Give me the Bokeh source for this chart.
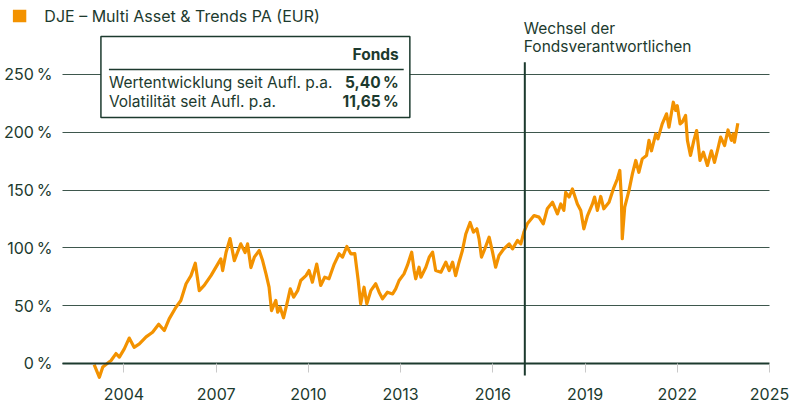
from bokeh.plotting import figure
from bokeh.models import FixedTicker, Label, BoxAnnotation, ColumnDataSource
from bokeh.embed import file_html
from bokeh.resources import INLINE

# ---------------- data ----------------
series_name = "DJE \u2013 Multi Asset & Trends PA (EUR)"
years = [
    2003.03, 2003.20, 2003.31, 2003.58, 2003.74, 2003.85, 2004.01, 2004.17, 2004.33, 2004.50,
    2004.72, 2004.93, 2005.13, 2005.31, 2005.47, 2005.69, 2005.85, 2006.02, 2006.18, 2006.32,
    2006.45, 2006.61, 2006.83, 2007.05, 2007.15, 2007.21, 2007.32, 2007.45, 2007.59, 2007.80,
    2007.94, 2008.02, 2008.13, 2008.24, 2008.40, 2008.51, 2008.62, 2008.72, 2008.80, 2008.94,
    2009.00, 2009.08, 2009.19, 2009.30, 2009.41, 2009.52, 2009.65, 2009.75, 2009.92, 2010.02,
    2010.13, 2010.27, 2010.40, 2010.53, 2010.67, 2010.84, 2011.00, 2011.11, 2011.25, 2011.38,
    2011.51, 2011.62, 2011.70, 2011.81, 2011.90, 2012.03, 2012.19, 2012.30, 2012.41, 2012.57,
    2012.74, 2012.84, 2012.95, 2013.11, 2013.22, 2013.36, 2013.44, 2013.49, 2013.60, 2013.66,
    2013.82, 2013.93, 2014.04, 2014.14, 2014.31, 2014.47, 2014.58, 2014.69, 2014.79, 2014.90,
    2015.01, 2015.12, 2015.26, 2015.37, 2015.48, 2015.55, 2015.63, 2015.74, 2015.88, 2015.99,
    2016.09, 2016.20, 2016.36, 2016.53, 2016.64, 2016.80, 2016.91, 2017.01, 2017.12, 2017.34,
    2017.50, 2017.64, 2017.77, 2017.94, 2018.10, 2018.21, 2018.31, 2018.37, 2018.48, 2018.59,
    2018.75, 2018.86, 2018.96, 2019.08, 2019.24, 2019.31, 2019.40, 2019.51, 2019.61, 2019.78,
    2019.92, 2020.05, 2020.13, 2020.18, 2020.21, 2020.29, 2020.43, 2020.54, 2020.65, 2020.75,
    2020.86, 2021.00, 2021.08, 2021.16, 2021.30, 2021.37, 2021.51, 2021.65, 2021.73, 2021.87,
    2021.95, 2022.00, 2022.09, 2022.16, 2022.27, 2022.33, 2022.43, 2022.54, 2022.63, 2022.74,
    2022.85, 2022.98, 2023.11, 2023.21, 2023.32, 2023.41, 2023.54, 2023.65, 2023.76, 2023.82,
    2023.86, 2023.97,
]
performance = [
    -1, -12, -3, 2.6, 8.6, 5.5, 12.7, 22, 14, 17,
    23, 27, 34, 28.5, 38.6, 48.7, 54.5, 69, 76, 86.8,
    63, 67.5, 76, 86, 90.5, 80.4, 96, 108, 89, 103.5,
    96, 103.5, 83, 92, 97.7, 89, 77.5, 66, 45.8, 54.5,
    44.4, 48.7, 39.5, 51.6, 64.6, 57.4, 63, 71.8, 76, 80.4,
    70.3, 86, 67.5, 74.6, 73.3, 86, 94.9, 92, 101.2, 94.9,
    95, 71.8, 51.6, 66, 51.6, 63, 69, 61.7, 56, 61.7,
    60.2, 64.6, 71.8, 77.5, 84.8, 96.3, 80.4, 73.3, 83.3, 74.6,
    83.3, 92, 96.3, 80.4, 79, 87.6, 80.4, 87.6, 76, 87.6,
    97.7, 112, 122, 113.6, 116.5, 108, 92, 99.2, 109.3, 96.3,
    83.3, 93.4, 99.2, 103.5, 99.2, 106.4, 103.5, 113.6, 120.8, 128,
    126.6, 120.8, 133.8, 139.5, 129.4, 138, 132.4, 148, 144, 151,
    138, 132.4, 116.5, 128, 138, 144, 132.4, 144.5, 133.8, 139.5,
    151, 159.6, 167, 144, 107.9, 135.2, 149.7, 164, 175.6, 165.4,
    177, 180, 193, 184, 198.7, 194.3, 207.3, 216, 204.4, 226,
    218.9, 223, 207.3, 208.7, 214.5, 193, 180, 193, 201.5, 175.6,
    182.8, 171.3, 184, 174, 185.6, 195.8, 188.6, 202, 193, 198.7,
    191.4, 207.8,
]
y_ticks = [0, 50, 100, 150, 200, 250]
y_tick_labels = ["0\u202f%", "50\u202f%", "100\u202f%", "150\u202f%", "200\u202f%", "250\u202f%"]
x_ticks = [2004, 2007, 2010, 2013, 2016, 2019, 2022, 2025]
x_tick_labels = ["2004", "2007", "2010", "2013", "2016", "2019", "2022", "2025"]
x_start, x_end = 2002, 2025
change_date = 2017.04
change_text = ["Wechsel der", "Fondsverantwortlichen"]
table_header = "Fonds"
table_rows = ["Wertentwicklung seit Aufl. p.a.", "Volatilit\u00e4t seit Aufl. p.a."]
table_values = ["5,40\u202f%", "11,65\u202f%"]

# ---------------- style ----------------
ORANGE = "#F39200"
DARK = "#1c3a2e"
FONT = "Inter"
TXT = "15.5px"
PX_PER_YEAR = 707 / 23.0

p = figure(width=789, height=404, output_backend="svg", toolbar_location=None,
           x_range=(x_start - 62 / PX_PER_YEAR, x_end + 20 / PX_PER_YEAR),
           y_range=(-35.47, 314.0),
           min_border_left=0, min_border_right=0, min_border_top=0, min_border_bottom=0)
p.outline_line_color = None
p.background_fill_color = "white"
p.border_fill_color = "white"

# y axis drawn at the left edge of the data period
p.yaxis.ticker = FixedTicker(ticks=y_ticks)
p.yaxis.major_label_overrides = dict(zip(y_ticks, y_tick_labels))
p.yaxis.fixed_location = x_start
p.yaxis.axis_line_color = None
p.yaxis.major_tick_line_color = None
p.yaxis.minor_tick_line_color = None
p.yaxis.major_label_standoff = 4
p.yaxis.major_label_text_font = FONT
p.yaxis.major_label_text_font_size = "16px"
p.yaxis.major_label_text_color = DARK

# x axis drawn at the zero line
p.xaxis.ticker = FixedTicker(ticks=x_ticks)
p.xaxis.major_label_overrides = dict(zip(x_ticks, x_tick_labels))
p.xaxis.fixed_location = 0
p.xaxis.bounds = (x_start, x_end)
p.xaxis.axis_line_color = DARK
p.xaxis.axis_line_width = 2
p.xaxis.major_tick_line_color = "#c9c9c9"
p.xaxis.major_tick_in = 0
p.xaxis.major_tick_out = 9
p.xaxis.minor_tick_line_color = None
p.xaxis.major_label_standoff = 16
p.xaxis.major_label_text_font = FONT
p.xaxis.major_label_text_font_size = "16px"
p.xaxis.major_label_text_color = DARK

p.xgrid.grid_line_color = None
ygrid = p.ygrid[0]
if "cross_bounds" in ygrid.properties():
    ygrid.ticker = FixedTicker(ticks=y_ticks)
    ygrid.cross_bounds = (x_start, x_end)
    ygrid.grid_line_color = DARK
    ygrid.grid_line_alpha = 0.85
    ygrid.grid_line_width = 1
else:
    ygrid.grid_line_color = None
    p.segment(x0=[x_start] * len(y_ticks), y0=y_ticks, x1=[x_end] * len(y_ticks), y1=y_ticks,
              line_color=DARK, line_alpha=0.85, line_width=1, level="underlay")

src = ColumnDataSource(data=dict(x=years, y=performance))
p.line("x", "y", source=src, line_color=ORANGE, line_width=3.2, line_join="round")

# legend entry (swatch + label)
p.add_layout(BoxAnnotation(left=2000.386, right=2000.822, top=306.0, bottom=295.2,
                           fill_color=ORANGE, fill_alpha=1, line_color=None))
p.add_layout(Label(x=2001.41, y=300.2, text=series_name, text_baseline="alphabetic",
                   text_font=FONT, text_font_size="16px", text_color=DARK))

# change of fund managers
p.segment(x0=[change_date], y0=[-10.4], x1=[change_date], y1=[260.6],
          line_color=DARK, line_width=2)
p.add_layout(Label(x=change_date, y=289.5, text=change_text[0], x_offset=-1,
                   text_font=FONT, text_font_size=TXT, text_color=DARK,
                   text_baseline="alphabetic"))
p.add_layout(Label(x=change_date, y=273.9, text=change_text[1], x_offset=-1,
                   text_font=FONT, text_font_size=TXT, text_color=DARK,
                   text_baseline="alphabetic"))

# key figure table
p.quad(left=[2003.25], right=[2013.30], top=[282.9], bottom=[212.8],
       fill_color="white", line_color=DARK, line_width=1.5)
p.segment(x0=[2003.51], y0=[254.3], x1=[2013.10], y1=[254.3], line_color=DARK, line_width=1.5)
p.add_layout(Label(x=2012.94, y=267.3, text=table_header, text_align="right",
                   text_baseline="alphabetic", text_font=FONT, text_font_style="bold",
                   text_font_size=TXT, text_color=DARK))
row_y = [243.3, 226.9]
for lab, val, yy in zip(table_rows, table_values, row_y):
    p.add_layout(Label(x=2003.51, y=yy, text=lab, text_baseline="alphabetic",
                       text_font=FONT, text_font_size=TXT, text_color=DARK))
    p.add_layout(Label(x=2012.94, y=yy, text=val, text_align="right",
                       text_baseline="alphabetic", text_font=FONT, text_font_style="bold",
                       text_font_size=TXT, text_color=DARK))

open("out.html", "w").write(file_html(p, INLINE))
